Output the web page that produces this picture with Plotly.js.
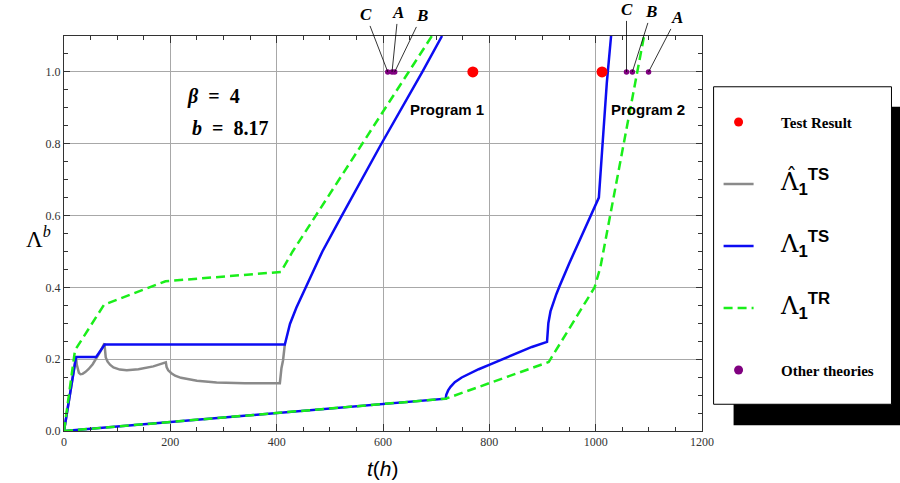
<!DOCTYPE html>
<html><head><meta charset="utf-8">
<script src="https://cdn.plot.ly/plotly-3.0.1.min.js"></script>
<style>html,body{margin:0;padding:0;background:#fff}#chart{width:900px;height:483px}</style>
</head><body><div id="chart"></div>
<script>
// ---------- data ----------
// Program 1 : Λ̂1^TS (gray)
const p1HatT = [0, 22.6, 24, 26, 28, 31, 35, 40, 46, 54, 61, 68, 76, 77, 78.5, 82, 87, 93, 105, 118, 140, 168, 191.5, 193, 196, 202, 209, 220, 231, 250, 287, 340, 406, 407, 409, 412, 415.4];
const p1HatV = [0, 0.206, 0.185, 0.170, 0.162, 0.158, 0.159, 0.164, 0.172, 0.186, 0.202, 0.220, 0.244, 0.222, 0.205, 0.193, 0.184, 0.177, 0.171, 0.169, 0.172, 0.180, 0.191, 0.178, 0.169, 0.161, 0.154, 0.148, 0.145, 0.140, 0.135, 0.133, 0.133, 0.150, 0.175, 0.197, 0.241];
// Program 1 : Λ1^TS (blue)
const p1TsT = [0, 22.6, 60.5, 76.5, 415.4, 420, 425, 437, 455, 470, 486, 520, 597, 674, 711];
const p1TsV = [0, 0.206, 0.206, 0.241, 0.241, 0.272, 0.298, 0.343, 0.400, 0.451, 0.500, 0.593, 0.800, 1.000, 1.100];
// Program 1 : Λ1^TR (green)
const p1TrT = [0, 20.7, 75.5, 191, 408, 430, 692];
const p1TrV = [0, 0.225, 0.352, 0.417, 0.443, 0.500, 1.100];
// Program 2 : Λ1^TS (blue)
const p2TsT = [0, 718, 719, 720.5, 722.5, 727, 735, 748, 763, 780, 800.8, 825, 851, 880, 908.5, 909.5, 911, 915, 920, 926, 932, 940, 950, 968, 1006, 1013, 1021, 1029];
const p2TsV = [0, 0.090, 0.101, 0.107, 0.113, 0.123, 0.136, 0.149, 0.160, 0.172, 0.185, 0.200, 0.218, 0.234, 0.248, 0.270, 0.300, 0.333, 0.356, 0.381, 0.403, 0.432, 0.466, 0.525, 0.650, 0.800, 0.970, 1.100];
// Program 2 : Λ1^TR (green)
const p2TrT = [0, 718, 911.7, 998, 1009, 1091];
const p2TrV = [0, 0.090, 0.192, 0.400, 0.457, 1.100];
// Test results
const testT = [769, 1012];
const testV = [1, 1];
// Other theories
const otherT = [609, 617, 622, 1058, 1069, 1099.5];
const otherV = [1, 1, 1, 1, 1, 1];
const otherLabels = ['C', 'A', 'B', 'C', 'B', 'A'];
// tick labels
const xTicks = [0, 200, 400, 600, 800, 1000, 1200];
const yTicks = [0.0, 0.2, 0.4, 0.6, 0.8, 1.0];

// ---------- styles ----------
const GRAY = '#8a8a8a', BLUE = '#0c0cf2', GREEN = '#1aee1a', RED = '#ff0000', PURPLE = '#800080';
const serif = 'Liberation Serif';
const sans = 'Liberation Sans';
const pad = '\u00a0\u00a0\u00a0\u00a0\u00a0\u00a0';
const lamName = (sub, sup) =>
  pad + '<span style="font-size:24px;font-family:DejaVu Serif">Λ' +
  '<sub><span style="font-family:Liberation Sans;font-weight:bold">' + sub + '</span></sub>' +
  '<sup><span style="font-family:Liberation Sans;font-weight:bold">' + sup + '</span></sup></span>';

const traces = [
  {x: p1HatT, y: p1HatV, mode: 'lines', line: {color: GRAY, width: 2.5}, name: lamName('1', 'TS'), legendgroup: 'g2', legendrank: 2},
  {x: p1TsT, y: p1TsV, mode: 'lines', line: {color: BLUE, width: 2.5}, name: lamName('1', 'TS'), legendgroup: 'g3', legendrank: 3},
  {x: p2TsT, y: p2TsV, mode: 'lines', line: {color: BLUE, width: 2.5}, showlegend: false, legendgroup: 'g3'},
  {x: p1TrT, y: p1TrV, mode: 'lines', line: {color: GREEN, width: 2.5, dash: '9px,5px'}, name: lamName('1', 'TR'), legendgroup: 'g4', legendrank: 4},
  {x: p2TrT, y: p2TrV, mode: 'lines', line: {color: GREEN, width: 2.5, dash: '9px,5px'}, showlegend: false, legendgroup: 'g4'},
  {x: testT, y: testV, mode: 'markers', marker: {color: RED, size: 11}, showlegend: false, legendgroup: 'g1'},
  {x: otherT, y: otherV, mode: 'markers', marker: {color: PURPLE, size: 5.5}, showlegend: false, legendgroup: 'g5'},
  // legend-only entries (no data)
  {x: [null], y: [null], mode: 'markers', marker: {color: RED, size: 9}, name: pad + '<b>Test Result</b>', legendgroup: 'g1', legendrank: 1},
  {x: [null], y: [null], mode: 'markers', marker: {color: PURPLE, size: 9}, name: pad + '<b>Other theories</b>', legendgroup: 'g5', legendrank: 5}
];

// label offsets (px) for the letter annotations
const labelOffsets = [[-22, -57], [6, -59], [27, -56], [0, -62], [19, -60], [28, -54]];
const annotations = otherT.map((t, i) => ({
  x: t, y: otherV[i], xref: 'x', yref: 'y', text: '<b><i>' + otherLabels[i] + '</i></b>',
  showarrow: true, arrowhead: 0, arrowwidth: 0.8, arrowcolor: '#000', standoff: 0,
  ax: labelOffsets[i][0], ay: labelOffsets[i][1],
  font: {family: serif, size: 17, color: '#000'}
}));

const W = 638.4, H = 394.4, L = 64, B = 430.7;
const px = v => (v - L) / W, py = v => (B - v) / H;

annotations.push(
  {x: 228, y: 0.931, xref: 'x', yref: 'y', xanchor: 'left', yanchor: 'middle', showarrow: false,
   text: '<b><i>β</i>\u00a0 =\u00a0 4</b>', font: {family: serif, size: 20, color: '#000'}},
  {x: 237, y: 0.844, xref: 'x', yref: 'y', xanchor: 'left', yanchor: 'middle', showarrow: false,
   text: '<b><i>b</i>\u00a0 =\u00a0 8.17</b>', font: {family: serif, size: 20, color: '#000'}},
  {x: 720, y: 0.8945, xref: 'x', yref: 'y', showarrow: false, text: '<b>Program 1</b>',
   font: {family: sans, size: 15, color: '#000'}},
  {x: 1098.7, y: 0.8945, xref: 'x', yref: 'y', showarrow: false, text: '<b>Program 2</b>',
   font: {family: sans, size: 15, color: '#000'}},
  {x: -0.04, y: 0.49, xref: 'paper', yref: 'paper', showarrow: false, xanchor: 'center', yanchor: 'middle',
   text: 'Λ<sup><i>b</i></sup>', font: {family: serif, size: 23, color: '#000'}},
  {x: 0.5, y: -0.094, xref: 'paper', yref: 'paper', showarrow: false, xanchor: 'center', yanchor: 'middle',
   text: '<i>t</i>(<i>h</i>)', font: {family: sans, size: 21, color: '#000'}},
  // hat accent over the first legend Λ (Λ̂)
  {x: px(791.5), y: py(177), xref: 'paper', yref: 'paper', showarrow: false, xanchor: 'center', yanchor: 'middle',
   text: '\u02c6', font: {family: 'DejaVu Serif', size: 22, color: '#000'}}
);

const shapes = [
  {type: 'rect', xref: 'paper', yref: 'paper', x0: px(734), x1: px(910), y0: py(425), y1: py(107),
   fillcolor: '#000', line: {width: 0}, layer: 'above'},
  {type: 'rect', xref: 'paper', yref: 'paper', x0: px(714), x1: px(892), y0: py(404), y1: py(87),
   fillcolor: '#fff', line: {color: '#000', width: 1}, layer: 'above'}
];

const axisCommon = {
  ticks: 'inside', tickcolor: '#333', showline: true, linecolor: '#333', linewidth: 1,
  mirror: 'ticks', showgrid: true, gridcolor: '#a8a8a8', gridwidth: 1, zeroline: false,
  tickfont: {family: serif, size: 12, color: '#333'}
};
const layout = {
  width: 900, height: 483,
  margin: {l: L, r: 900 - L - W, t: 36.3, b: 483 - B, pad: 0},
  paper_bgcolor: '#fff', plot_bgcolor: '#fff',
  showlegend: true,
  legend: {x: px(719), y: py(106), xanchor: 'left', yanchor: 'top', bgcolor: 'rgba(0,0,0,0)',
           borderwidth: 0, tracegroupgap: 39.5, itemwidth: 30,
           font: {family: serif, size: 15, color: '#000'}},
  xaxis: Object.assign({}, axisCommon, {range: [0, 1200], tickvals: xTicks, ticklen: 7,
          minor: {dtick: 50, tick0: 0, ticks: 'inside', ticklen: 4, tickcolor: '#333', showgrid: false}}),
  yaxis: Object.assign({}, axisCommon, {range: [0, 1.1], tickvals: yTicks, tickformat: '.1f', ticklen: 6,
          minor: {dtick: 0.05, tick0: 0, ticks: 'inside', ticklen: 4, tickcolor: '#333', showgrid: false}}),
  annotations: annotations,
  shapes: shapes
};
Plotly.newPlot('chart', traces, layout, {displayModeBar: false, staticPlot: true});
</script></body></html>
